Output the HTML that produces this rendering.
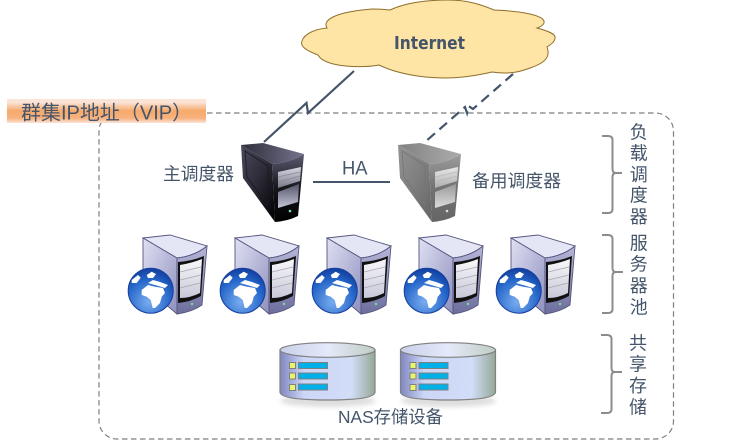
<!DOCTYPE html>
<html>
<head>
<meta charset="utf-8">
<style>
html,body{margin:0;padding:0;background:#fff;width:744px;height:441px;overflow:hidden}
svg{display:block}
text{font-family:"Liberation Sans","Noto Sans CJK SC",sans-serif;fill:#44546A;font-size:17.6px}
.v{text-anchor:middle;font-size:18px}
</style>
</head>
<body>
<svg width="744" height="441" viewBox="0 0 744 441" xmlns="http://www.w3.org/2000/svg">
<defs>
<filter id="blur" x="-20%" y="-100%" width="140%" height="300%"><feGaussianBlur stdDeviation="2.5"/></filter>
<linearGradient id="lab" x1="0" y1="0" x2="0" y2="1">
<stop offset="0" stop-color="#fbe3d6"/><stop offset=".14" stop-color="#fbe3d6"/><stop offset=".5" stop-color="#f6a96b"/><stop offset=".8" stop-color="#f7b27f"/><stop offset="1" stop-color="#fbe3d6"/>
</linearGradient>
<linearGradient id="tl" x1="0" y1="0" x2=".8" y2="1"><stop offset="0" stop-color="#4c4a60"/><stop offset=".55" stop-color="#2a2934"/><stop offset="1" stop-color="#050508"/></linearGradient>
<linearGradient id="tt" x1="0" y1="0" x2="1" y2="0"><stop offset="0" stop-color="#2e2d3a"/><stop offset="1" stop-color="#75748c"/></linearGradient>
<linearGradient id="tf" x1="0" y1="0" x2="0" y2="1"><stop offset="0" stop-color="#5c5a70"/><stop offset=".5" stop-color="#16161c"/><stop offset="1" stop-color="#000"/></linearGradient>
<linearGradient id="tb1" x1="0" y1="0" x2="0" y2="1"><stop offset="0" stop-color="#d8d8e2"/><stop offset="1" stop-color="#777788"/></linearGradient>
<linearGradient id="tb2" x1="0" y1="0" x2="0" y2="1"><stop offset="0" stop-color="#55556a"/><stop offset="1" stop-color="#c5c5d8"/></linearGradient>
<linearGradient id="sl" x1="0" y1="0" x2="1" y2="1"><stop offset="0" stop-color="#dfe0f3"/><stop offset="1" stop-color="#8f90bd"/></linearGradient>
<linearGradient id="sf" x1="0" y1="0" x2="0" y2="1"><stop offset="0" stop-color="#b5b6d8"/><stop offset="1" stop-color="#6c6d9c"/></linearGradient>
<linearGradient id="ss" x1="0" y1="0" x2="0" y2="1"><stop offset="0" stop-color="#f8f8fb"/><stop offset="1" stop-color="#c8c8d8"/></linearGradient>
<radialGradient id="gl" cx=".45" cy=".75" r=".85"><stop offset="0" stop-color="#79adf0"/><stop offset=".6" stop-color="#2364c8"/><stop offset="1" stop-color="#0b2f8c"/></radialGradient>
<linearGradient id="cy" x1="0" y1="0" x2="1" y2="0"><stop offset="0" stop-color="#8087c0"/><stop offset=".25" stop-color="#ccd6f6"/><stop offset=".75" stop-color="#d2ddf8"/><stop offset="1" stop-color="#94a896"/></linearGradient>
<linearGradient id="cyt" x1="0" y1="0" x2="1" y2="0"><stop offset="0" stop-color="#c9cfe8"/><stop offset=".5" stop-color="#e4eafa"/><stop offset="1" stop-color="#c0cdc4"/></linearGradient>

<g id="tower">
<path d="M241,145 L263,143 L304,154 Q290,163 272,164 Z" fill="url(#tt)"/>
<polygon points="241,145 272,164 275,222 243,178" fill="url(#tl)"/>
<polygon points="245,151 268,166 268,205 247,177" fill="none" stroke="#1a1a22" stroke-width=".8"/>
<path d="M272,164 Q290,163 304,154 L298,216 Q288,221 275,222 Z" fill="url(#tf)"/>
<polygon points="278,172 301,167 300,181 278,188" fill="url(#tb1)"/>
<path d="M278,177 L300,172 M278,182 L300,176" stroke="#8a8a98" stroke-width=".7"/>
<polygon points="278,192 299,184 298,202 278,208" fill="url(#tb2)"/>
<circle cx="290" cy="211" r="1.3" fill="#7fe0b0"/>
</g>

<g id="srv">
<path d="M143,238 L170,235 L207,246 Q195,256 177,258 Z" fill="#e4e5f5" stroke="#55577f" stroke-width=".9"/>
<polygon points="143,238 177,258 177,314 143,285" fill="url(#sl)" stroke="#55577f" stroke-width=".9"/>
<path d="M177,258 Q195,256 207,246 L202,305 Q192,312 177,314 Z" fill="url(#sf)" stroke="#55577f" stroke-width=".9"/>
<path d="M178,262 Q192,261 204,256 L201,296 Q190,302 178,303 Z" fill="#111"/>
<path d="M180,265 Q192,263 202,259 L200,293 Q190,298 180,298 Z" fill="url(#ss)"/>
<path d="M180,272 L201,267 M180,280 L201,275 M180,288 L200,283" stroke="#a5a5b5" stroke-width=".7"/>
<circle cx="192" cy="304" r="1.2" fill="#6fe39a"/>
<circle cx="150.700" cy="290.700" r="22.500" fill="url(#gl)" stroke="#163f9e" stroke-width="1"/>
<path d="M146.700,275 L151.700,271.700 L156,274 L153,278 L148,278 Z M131.700,280 L138,275 L140.700,277.700 L136.700,283 L131.700,283 Z M148,283 L153,280 L160,282 L168,285 L165,288 L155,285 Z M141.700,290 L148,285 L155,286.700 L163,288 L165,293 L161.700,296.700 L160,303 L155,308 L152.700,308 L150.700,300 L146.700,296.700 L141.700,295 Z" fill="#fff"/>
</g>

<g id="disk">
<ellipse cx="328" cy="401" rx="48" ry="6" fill="#000" opacity=".13" filter="url(#blur)"/>
<path d="M280,350 L280,392 Q280,400 328,400 Q375,400 375,392 L375,350 Z" fill="url(#cy)" stroke="#808080" stroke-width="1.200"/>
<ellipse cx="327.500" cy="350" rx="47.500" ry="7.300" fill="url(#cyt)" stroke="#808080" stroke-width="1.200"/>
<rect x="289.500" y="362.500" width="6" height="6" fill="#e8f56e" stroke="#808080" stroke-width="1"/>
<rect x="289.500" y="373" width="6" height="6" fill="#e8f56e" stroke="#808080" stroke-width="1"/>
<rect x="289.500" y="384.500" width="6" height="6" fill="#e8f56e" stroke="#808080" stroke-width="1"/>
<rect x="298.500" y="362.500" width="29" height="6" fill="#00b0e8" stroke="#808080" stroke-width="1"/>
<rect x="298.500" y="373" width="29" height="6" fill="#00b0e8" stroke="#808080" stroke-width="1"/>
<rect x="298.500" y="384" width="29" height="6" fill="#00b0e8" stroke="#808080" stroke-width="1"/>
</g>
</defs>

<rect x="99" y="113" width="574.500" height="326" rx="18" ry="18" fill="none" stroke="#7f7f7f" stroke-width="1.200" stroke-dasharray="5.500 3.500"/>

<rect x="7" y="99" width="199" height="24" fill="url(#lab)"/>
<text x="21" y="119.500" style="font-size:20px">群集IP地址（VIP）</text>

<path d="M327,28 C322,20 335,12 372,9 Q382,9 390,10 C405,3 425,0 449,0 C468,0 482,5 494,10 C520,11 546,15 544,23 Q543,26 537,28 C548,31 556,34 555,38 C555,42 550,45 547,47 C550,55 548,62 530,68 C522,71 515,73 505,73 Q498,73 492,72 C475,76 460,78 445,78 C420,78 395,73 379,65 C365,68 325,68 318,55 C305,50 300,46 302,41 C304,34 315,29 327,28 Z" fill="#FEE5A6" stroke="#8f6f2a" stroke-width="1"/>
<text x="394" y="49" style="font-family:'DejaVu Sans',sans-serif;font-size:17.5px;font-weight:bold" textLength="71" lengthAdjust="spacingAndGlyphs">Internet</text>

<polyline points="354,71 308,113 306.500,103 264,142" fill="none" stroke="#44546A" stroke-width="2.200"/>
<polyline points="513,74 473,109 468.500,106 467,113 465,107 425,142" fill="none" stroke="#44546A" stroke-width="2.200" stroke-dasharray="10 6"/>

<use href="#tower"/>
<use href="#tower" x="157" style="filter:grayscale(1)" opacity=".6"/>

<line x1="313" y1="182" x2="390" y2="182" stroke="#44546A" stroke-width="2"/>
<text x="342" y="174.500" style="font-size:19.500px" textLength="25.500" lengthAdjust="spacingAndGlyphs">HA</text>
<text x="163" y="180" textLength="71" lengthAdjust="spacingAndGlyphs">主调度器</text>
<text x="472" y="187" textLength="89" lengthAdjust="spacingAndGlyphs">备用调度器</text>

<use href="#srv"/>
<use href="#srv" x="92"/>
<use href="#srv" x="184"/>
<use href="#srv" x="276"/>
<use href="#srv" x="368"/>

<use href="#disk"/>
<use href="#disk" x="120.500"/>
<text x="338" y="423" textLength="105" lengthAdjust="spacingAndGlyphs">NAS存储设备</text>

<g fill="none" stroke="#8c8c8c" stroke-width="2">
<path d="M602,136 H608 Q612.500,136 612.500,140 V169 Q612.500,173 616,173 H622 M616,173 Q612.500,173 612.500,177 V209 Q612.500,213 608,213 H602"/>
<path d="M602,235 H608 Q612.500,235 612.500,239 V268 Q612.500,272 616,272 H623 M616,272 Q612.500,272 612.500,276 V309 Q612.500,313 608,313 H602"/>
<path d="M601,335 H607 Q611.500,335 611.500,339 V368 Q611.500,372 615,372 H622 M615,372 Q611.500,372 611.500,376 V409 Q611.500,413 607,413 H601"/>
</g>

<text class="v" x="638.700" y="138.500">负</text>
<text class="v" x="638.700" y="159.500">载</text>
<text class="v" x="638.700" y="181">调</text>
<text class="v" x="638.700" y="201.500">度</text>
<text class="v" x="638.700" y="223">器</text>
<text class="v" x="638.700" y="249.500">服</text>
<text class="v" x="638.700" y="270.500">务</text>
<text class="v" x="638.700" y="292">器</text>
<text class="v" x="638.700" y="313.500">池</text>
<text class="v" x="638" y="349.500">共</text>
<text class="v" x="638" y="370.500">享</text>
<text class="v" x="638" y="392">存</text>
<text class="v" x="638" y="413.500">储</text>
</svg>
</body>
</html>
